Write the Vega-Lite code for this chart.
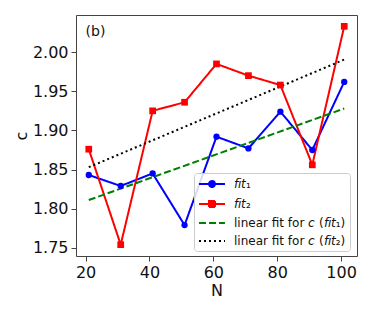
{
  "$schema": "https://vega.github.io/schema/vega-lite/v6.json",
  "width": 281,
  "height": 241,
  "autosize": "none",
  "padding": {"left": 76, "top": 15, "right": 17, "bottom": 56},
  "config": {
    "font": "DejaVu Sans",
    "view": {"stroke": "#444", "strokeWidth": 1},
    "axis": {"grid": false, "domain": false, "tickColor": "#444", "tickSize": 5, "labelFontSize": 16, "labelColor": "#111", "titleFontSize": 16, "titleFontWeight": "normal", "titleColor": "#111", "labelPadding": 3}
  },
  "datasets": {
    "curves": [
      {"N": 21, "c": 1.843, "s": "fit1"}, {"N": 31, "c": 1.829, "s": "fit1"}, {"N": 41, "c": 1.845, "s": "fit1"},
      {"N": 51, "c": 1.779, "s": "fit1"}, {"N": 61, "c": 1.892, "s": "fit1"}, {"N": 71, "c": 1.877, "s": "fit1"},
      {"N": 81, "c": 1.924, "s": "fit1"}, {"N": 91, "c": 1.875, "s": "fit1"}, {"N": 101, "c": 1.962, "s": "fit1"},
      {"N": 21, "c": 1.876, "s": "fit2"}, {"N": 31, "c": 1.754, "s": "fit2"}, {"N": 41, "c": 1.925, "s": "fit2"},
      {"N": 51, "c": 1.936, "s": "fit2"}, {"N": 61, "c": 1.985, "s": "fit2"}, {"N": 71, "c": 1.970, "s": "fit2"},
      {"N": 81, "c": 1.958, "s": "fit2"}, {"N": 91, "c": 1.856, "s": "fit2"}, {"N": 101, "c": 2.033, "s": "fit2"},
      {"N": 21, "c": 1.811, "s": "lin1"}, {"N": 101, "c": 1.928, "s": "lin1"},
      {"N": 21, "c": 1.853, "s": "lin2"}, {"N": 101, "c": 1.9905, "s": "lin2"}
    ],
    "label": [{"N": 20, "c": 2.026, "t": "(b)"}]
  },
  "layer": [
    {
      "data": {"name": "curves"},
      "mark": {"type": "line", "strokeWidth": 2},
      "encoding": {
        "x": {"field": "N", "type": "quantitative", "scale": {"domain": [17, 105], "nice": false, "zero": false}, "axis": {"values": [20, 40, 60, 80, 100], "title": "N", "titlePadding": 2}},
        "y": {"field": "c", "type": "quantitative", "scale": {"domain": [1.7395, 2.0475], "nice": false, "zero": false}, "axis": {"values": [1.75, 1.8, 1.85, 1.9, 1.95, 2.0], "format": ".2f", "title": "c", "titlePadding": 3}},
        "color": {
          "field": "s", "type": "nominal",
          "scale": {"domain": ["fit1", "fit2", "lin1", "lin2"], "range": ["#0000ff", "#ff0000", "#008000", "#000000"]},
          "legend": {
            "title": null,
            "orient": "none",
            "legendX": 118,
            "legendY": 158,
            "padding": 4,
            "labelFontSize": 12,
            "labelColor": "#111",
            "labelOffset": 22,
            "rowPadding": 5,
            "symbolSize": 144,
            "symbolStrokeWidth": 2,
            "fillColor": "rgba(255,255,255,0.85)",
            "strokeColor": "#cccccc",
            "cornerRadius": 3,
            "labelExpr": "datum.value === 'fit1' ? '𝘧𝘪𝘵₁' : datum.value === 'fit2' ? '𝘧𝘪𝘵₂' : datum.value === 'lin1' ? 'linear fit for 𝘤 (𝘧𝘪𝘵₁)' : 'linear fit for 𝘤 (𝘧𝘪𝘵₂)'",
            "encode": {
              "symbols": {
                "update": {
                  "shape": {"signal": "datum.value === 'fit1' ? 'M-1,0H3.33M1.67,0A0.5,0.5,0,1,1,0.67,0A0.5,0.5,0,1,1,1.67,0Z' : datum.value === 'fit2' ? 'M-1,0H3.33M0.67,-0.5H1.67V0.5H0.67Z' : 'M-1,0H3.33'"},
                  "fill": {"signal": "datum.value === 'fit1' ? '#0000ff' : datum.value === 'fit2' ? '#ff0000' : 'transparent'"}
                }
              }
            }
          }
        },
        "strokeDash": {
          "field": "s", "type": "nominal",
          "scale": {"domain": ["fit1", "fit2", "lin1", "lin2"], "range": [[1, 0], [1, 0], [7, 3], [2, 3]]}
        }
      }
    },
    {
      "data": {"name": "curves"},
      "transform": [{"filter": "datum.s === 'fit1'"}],
      "mark": {"type": "point", "shape": "circle", "filled": true, "size": 40, "color": "#0000ff", "opacity": 1},
      "encoding": {
        "x": {"field": "N", "type": "quantitative"},
        "y": {"field": "c", "type": "quantitative"}
      }
    },
    {
      "data": {"name": "curves"},
      "transform": [{"filter": "datum.s === 'fit2'"}],
      "mark": {"type": "point", "shape": "square", "filled": true, "size": 45, "color": "#ff0000", "opacity": 1},
      "encoding": {
        "x": {"field": "N", "type": "quantitative"},
        "y": {"field": "c", "type": "quantitative"}
      }
    },
    {
      "data": {"name": "label"},
      "mark": {"type": "text", "align": "left", "baseline": "middle", "fontSize": 14, "color": "#111"},
      "encoding": {
        "x": {"field": "N", "type": "quantitative"},
        "y": {"field": "c", "type": "quantitative"},
        "text": {"field": "t"}
      }
    }
  ]
}
